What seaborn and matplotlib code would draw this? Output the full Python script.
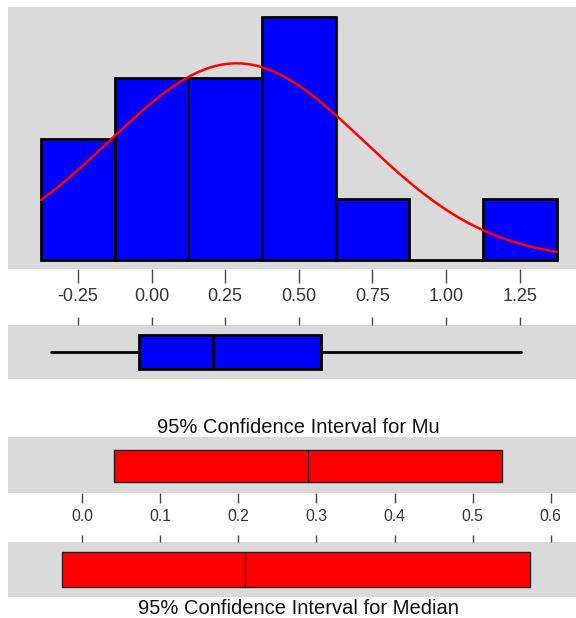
import numpy as np
import matplotlib
matplotlib.use("Agg")
import matplotlib.pyplot as plt
import seaborn as sns

# ---- data ----
bin_edges = [-0.375, -0.125, 0.125, 0.375, 0.625, 0.875, 1.125, 1.375]
bin_counts = [2, 3, 3, 4, 1, 0, 1]
hist_ticks = [-0.25, 0.0, 0.25, 0.5, 0.75, 1.0, 1.25]
hist_tick_labels = ["-0.25", "0.00", "0.25", "0.50", "0.75", "1.00", "1.25"]

n_obs = 14
sample_mean = 0.2886
sample_stdev = 0.4307

box_whisker_low = -0.340
box_q1 = -0.043
box_median = 0.210
box_q3 = 0.577
box_whisker_high = 1.253

mu_ci = [0.0408, 0.2886, 0.538]        # lower, mean, upper
median_ci = [-0.026, 0.209, 0.574]     # lower, median, upper
ci_ticks = [0.0, 0.1, 0.2, 0.3, 0.4, 0.5, 0.6]
ci_tick_labels = ["0.0", "0.1", "0.2", "0.3", "0.4", "0.5", "0.6"]

title_mu = "95% Confidence Interval for Mu"
title_median = "95% Confidence Interval for Median"

# ---- style ----
sns.set_style("white", {"axes.facecolor": "#DADADA"})
plt.rcParams["font.family"] = ["Liberation Sans", "DejaVu Sans"]

BG = "#DADADA"
BLUE = "#0000FF"
RED = "#FF0000"

fig = plt.figure(figsize=(5.76, 6.18), dpi=100)
fig.patch.set_facecolor("white")

L = 8.1 / 576
W = 1 - L

ax_h = fig.add_axes([L, 0.5647, W, 0.4235])
ax_b = fig.add_axes([L, 0.3863, W, 0.0878])
ax_m = fig.add_axes([L, 0.2028, W, 0.0896])
ax_d = fig.add_axes([L, 0.0335, W, 0.0890])

for ax in (ax_h, ax_b, ax_m, ax_d):
    ax.set_facecolor(BG)
    for s in ax.spines.values():
        s.set_visible(False)

# ---- histogram ----
centers = [(bin_edges[i] + bin_edges[i + 1]) / 2 for i in range(len(bin_counts))]
sns.histplot(x=centers, weights=bin_counts, bins=bin_edges, ax=ax_h,
             color=BLUE, edgecolor="black", linewidth=2, alpha=1, zorder=2)
bw = bin_edges[1] - bin_edges[0]
xs = np.linspace(bin_edges[0], bin_edges[-1], 300)
ys = n_obs * bw * np.exp(-0.5 * ((xs - sample_mean) / sample_stdev) ** 2) / (sample_stdev * np.sqrt(2 * np.pi))
sns.lineplot(x=xs, y=ys, ax=ax_h, color=RED, linewidth=1.8, zorder=3)

hx0, hx1 = -0.4868, 1.441
ax_h.set_xlim(hx0, hx1)
ax_h.set_ylim(-0.148, 4.165)
ax_h.set_yticks([])
ax_h.set_ylabel("")
ax_h.set_xticks(hist_ticks)
ax_h.set_xticklabels(hist_tick_labels, fontsize=13, color="#333333")
ax_h.tick_params(axis="x", bottom=True, direction="out", length=10, width=1,
                 color="#444444", pad=4)

# ---- boxplot ----
stats = [dict(med=box_median, q1=box_q1, q3=box_q3,
              whislo=box_whisker_low, whishi=box_whisker_high, fliers=[])]
ax_b.bxp(stats, positions=[0], widths=0.64, orientation="horizontal",
         showcaps=False, patch_artist=True,
         boxprops=dict(facecolor=BLUE, edgecolor="black", linewidth=2),
         medianprops=dict(color="black", linewidth=2),
         whiskerprops=dict(color="black", linewidth=2))
ax_b.set_xlim(hx0, hx1)
ax_b.set_ylim(0.5, -0.5)
ax_b.set_yticks([])
ax_b.set_xticks(hist_ticks)
ax_b.tick_params(axis="x", bottom=False, top=True, labelbottom=False, labeltop=False,
                 direction="out", length=6, width=1, color="#444444")

# ---- confidence intervals ----
cx0, cx1 = -0.0951, 0.6325

def ci_panel(ax, vals, height):
    lo, mid, hi = vals
    ax.barh([0], [hi - lo], left=[lo], height=height, color=RED,
            edgecolor="#222222", linewidth=1)
    ax.plot([mid, mid], [-height / 2, height / 2], color="#222222", linewidth=1)
    ax.set_xlim(cx0, cx1)
    ax.set_ylim(0.5, -0.5)
    ax.set_yticks([])
    ax.set_xticks(ci_ticks)

ci_panel(ax_m, mu_ci, 0.59)
ax_m.set_ylim(0.48, -0.52)
ax_m.set_xticklabels(ci_tick_labels, fontsize=11.3, color="#333333")
ax_m.tick_params(axis="x", bottom=True, direction="out", length=7.5, width=1,
                 color="#444444", pad=4)

ci_panel(ax_d, median_ci, 0.63)
ax_d.tick_params(axis="x", bottom=False, top=True, labelbottom=False, labeltop=False,
                 direction="out", length=5, width=1, color="#444444")

fig.text(0.5184, 0.2988, title_mu, ha="center", va="baseline", fontsize=14.5, color="#111111")
fig.text(0.5184, 0.0060, title_median, ha="center", va="baseline", fontsize=14.5, color="#111111")

fig.savefig("out.png", dpi=100, facecolor="white")
